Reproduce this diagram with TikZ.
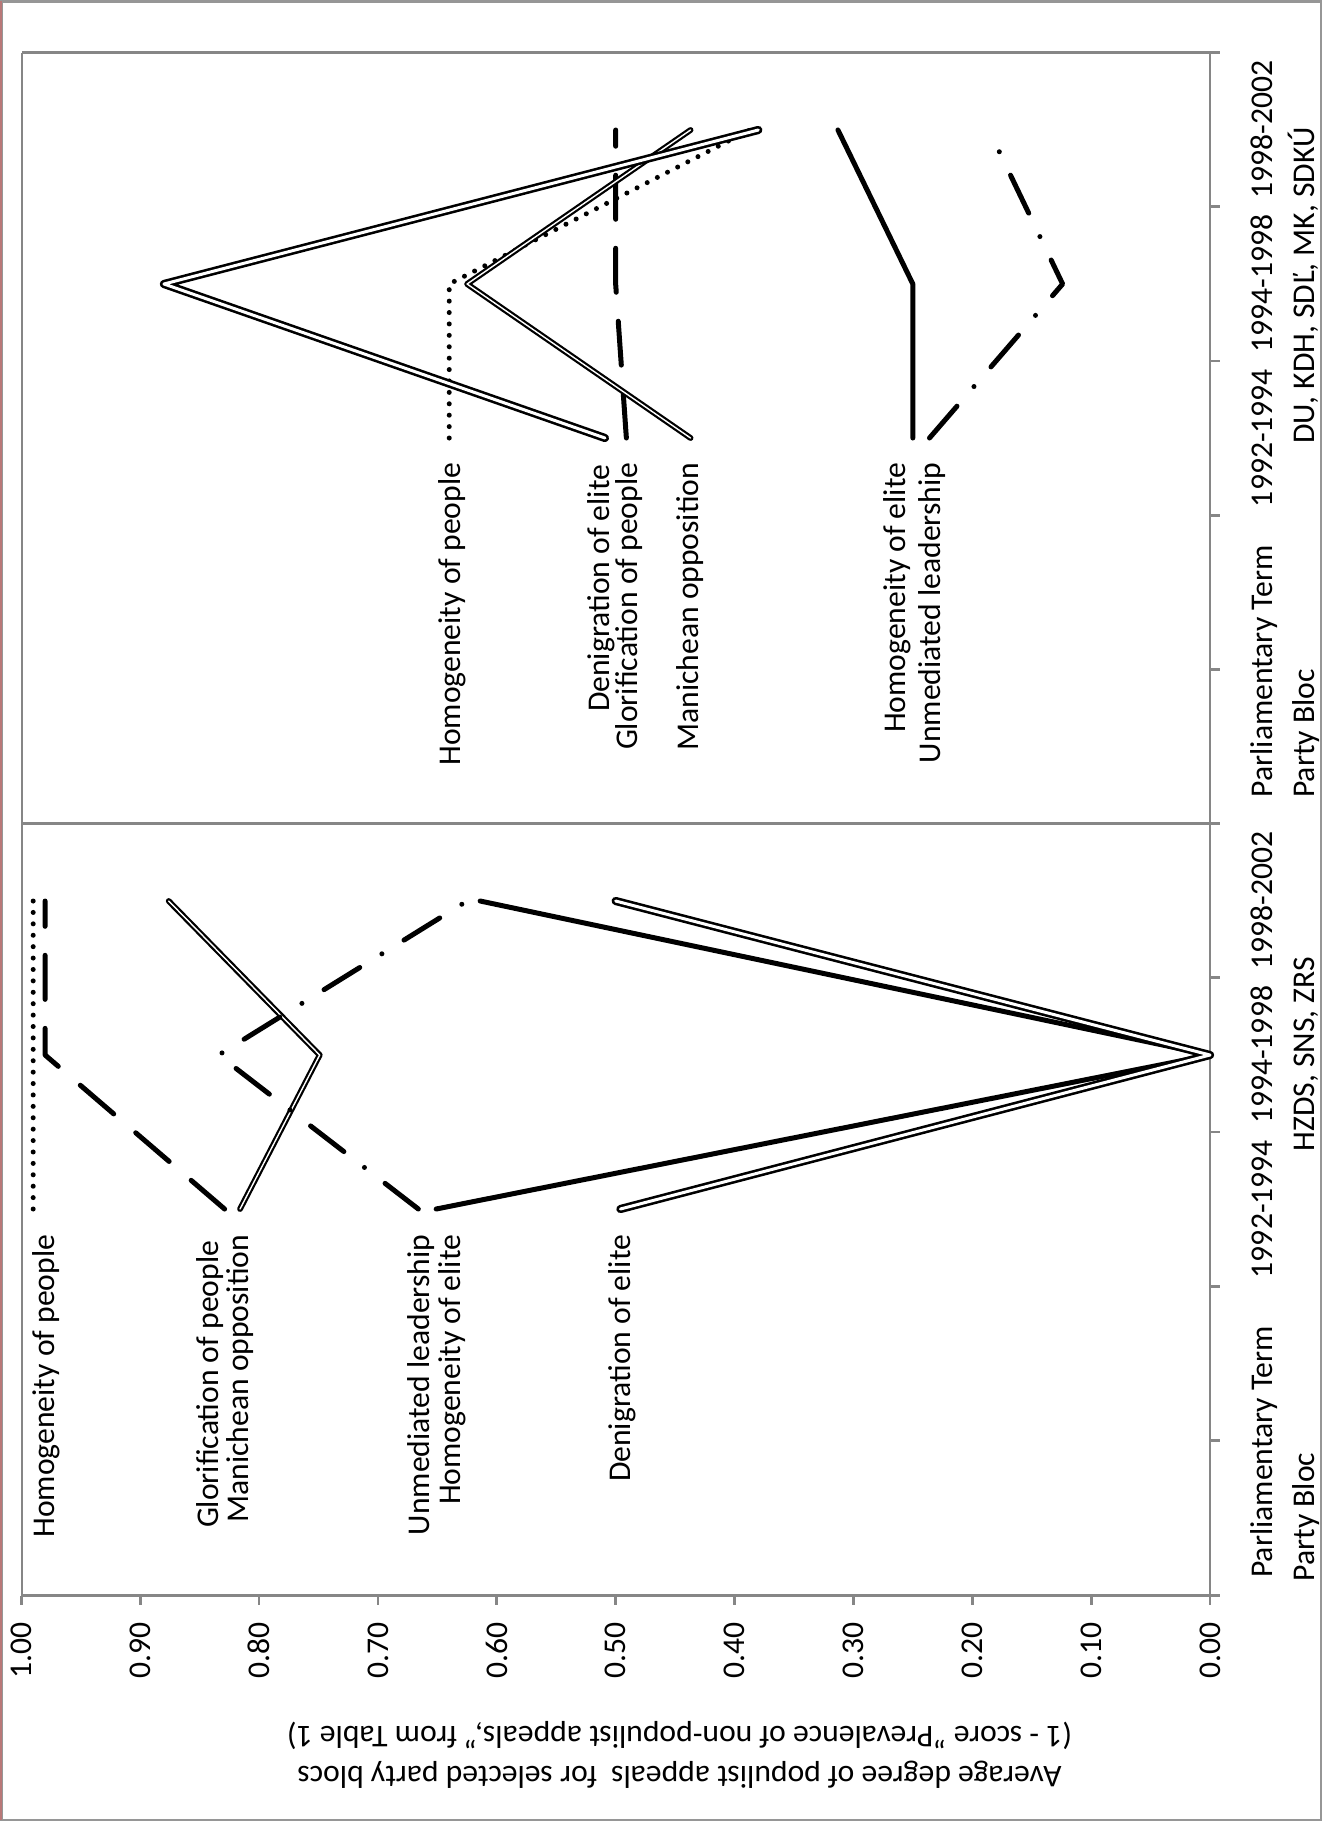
\documentclass[tikz,border=0pt]{standalone}
\usepackage{fontspec}
\setmainfont{Carlito}

\definecolor{axisgray}{RGB}{134,134,134}
\definecolor{framegray}{RGB}{150,150,150}
\definecolor{framered}{RGB}{185,120,120}

\tikzset{
  chartline/.style={line cap=round, line join=round},
  homPeople/.style={chartline, line width=0.05cm, dash pattern=on 0cm off 0.114cm},
  glorPeople/.style={chartline, line width=0.05cm, dash pattern=on 0.44cm off 0.29cm},
  maniOpp/.style={chartline, double=white, line width=0.022cm, double distance=0.014cm},
  unmedLead/.style={chartline, line width=0.05cm, dash pattern=on 0.42cm off 0.26cm on 0cm off 0.26cm},
  homElite/.style={chartline, line width=0.05cm},
  denElite/.style={chartline, double=white, line width=0.026cm, double distance=0.03cm},
  axisline/.style={draw=axisgray, line width=0.028cm},
  serieslabel/.style={rotate=90, anchor=east, inner sep=0pt},
  ticklabel/.style={rotate=90, anchor=east, inner sep=0pt},
  catlabel/.style={rotate=90, anchor=base, inner sep=0pt},
}

\begin{document}
\begin{tikzpicture}[x=0.01cm, y=-0.01cm, font=\fontsize{9}{11}\selectfont]
  \useasboundingbox (0,0) rectangle (1323,1827);
  % outer frame
  \draw[framegray, line width=0.02cm] (1.5,1.5) rectangle (1321,1819.5);
  \draw[framered, line width=0.02cm] (1,1.5) -- (1,1819.5);

  % plot area
  \draw[axisline] (22,52.5) -- (1210,52.5);
  \draw[axisline] (22,52.5) -- (22,1595.5);
  \draw[axisline] (22,823.5) -- (1210,823.5);
  \draw[axisline] (1210,52.5) -- (1210,1595.5);
  \draw[axisline] (22,1595.5) -- (1210,1595.5);
  % category ticks
  \draw[axisline] (1210,52.5) -- (1220,52.5) (1210,206.7) -- (1220,206.7)
    (1210,360.9) -- (1220,360.9) (1210,515.1) -- (1220,515.1)
    (1210,669.3) -- (1220,669.3) (1210,823.5) -- (1220,823.5)
    (1210,977.7) -- (1220,977.7) (1210,1131.9) -- (1220,1131.9)
    (1210,1286.1) -- (1220,1286.1) (1210,1440.3) -- (1220,1440.3)
    (1210,1595.5) -- (1220,1595.5);

  % category labels
  \node[catlabel] (top9802) at (1272,129.6) {1998-2002};
  \node[catlabel] (top9498) at (1272,283.8) {1994-1998};
  \node[catlabel] (top9294) at (1272,438) {1992-1994};
  \node[catlabel] (topterm) at (1272,671.5) {Parliamentary Term};
  \node[catlabel] (topbloc) at (1314,285.6) {DU, KDH, SDĽ, MK, SDKÚ};
  \node[catlabel] (topparty) at (1314,733.5) {Party Bloc};
  \node[catlabel] (bot9802) at (1272,900.7) {1998-2002};
  \node[catlabel] (bot9498) at (1272,1054.9) {1994-1998};
  \node[catlabel] (bot9294) at (1272,1209.1) {1992-1994};
  \node[catlabel] (botterm) at (1272,1452) {Parliamentary Term};
  \node[catlabel] (botbloc) at (1314,1054) {HZDS, SNS, ZRS};
  \node[catlabel] (botparty) at (1314,1517) {Party Bloc};

  % value axis title
  \node[rotate=180, align=center, inner sep=0pt, font=\fontsize{9}{11.4}\selectfont] (vtitle) at (679.5,1755)
    {Average degree of populist appeals\ \ for selected party blocs\\(1 - score "Prevalence of non-populist appeals," from Table 1)};

  \begin{scope}[shift={(1210,0)}, x=-11.88cm]
    % value ticks
    \draw[axisline] (0,1595.5) -- (0,1605) (0.1,1595.5) -- (0.1,1605)
      (0.2,1595.5) -- (0.2,1605) (0.3,1595.5) -- (0.3,1605)
      (0.4,1595.5) -- (0.4,1605) (0.5,1595.5) -- (0.5,1605)
      (0.6,1595.5) -- (0.6,1605) (0.7,1595.5) -- (0.7,1605)
      (0.8,1595.5) -- (0.8,1605) (0.9,1595.5) -- (0.9,1605)
      (1,1595.5) -- (1,1605);
    \node[ticklabel] (t100) at (1.0,1622) {1.00};
    \node[ticklabel] (t090) at (0.9,1622) {0.90};
    \node[ticklabel] (t080) at (0.8,1622) {0.80};
    \node[ticklabel] (t070) at (0.7,1622) {0.70};
    \node[ticklabel] (t060) at (0.6,1622) {0.60};
    \node[ticklabel] (t050) at (0.5,1622) {0.50};
    \node[ticklabel] (t040) at (0.4,1622) {0.40};
    \node[ticklabel] (t030) at (0.3,1622) {0.30};
    \node[ticklabel] (t020) at (0.2,1622) {0.20};
    \node[ticklabel] (t010) at (0.1,1622) {0.10};
    \node[ticklabel] (t000) at (0.0,1622) {0.00};

    % DU, KDH, SDL, MK, SDKU
    \draw[homPeople] (0.640,438) -- (0.640,284) -- (0.387,130);
    \draw[glorPeople] (0.491,438) -- (0.500,284) -- (0.500,130);
    \draw[maniOpp] (0.437,438) -- (0.625,284) -- (0.437,130);
    \draw[unmedLead] (0.236,438) -- (0.124,284) -- (0.186,130);
    \draw[homElite] (0.250,438) -- (0.250,284) -- (0.313,130);
    \draw[denElite] (0.509,438) -- (0.880,284) -- (0.380,130);

    % HZDS, SNS, ZRS
    \draw[homPeople] (0.990,1209) -- (0.990,1055) -- (0.990,901);
    \draw[glorPeople] (0.829,1209) -- (0.980,1055) -- (0.980,901);
    \draw[maniOpp] (0.816,1209) -- (0.749,1055) -- (0.876,901);
    \draw[unmedLead] (0.666,1209) -- (0.834,1055) -- (0.625,901);
    \draw[homElite] (0.651,1209) -- (0.000,1055) -- (0.614,901);
    \draw[denElite] (0.496,1209) -- (0.000,1055) -- (0.500,901);
  \end{scope}

  % series labels
  \node[serieslabel] (tHP) at (452.4,462) {Homogeneity of people};
  \node[serieslabel] (tDE) at (601,464) {Denigration of elite};
  \node[serieslabel] (tGP) at (629,462) {Glorification of people};
  \node[serieslabel] (tMO) at (690,462) {Manichean opposition};
  \node[serieslabel] (tHE) at (897.4,462) {Homogeneity of elite};
  \node[serieslabel] (tUL) at (932,462) {Unmediated leadership};
  \node[serieslabel] (bHP) at (46.3,1234) {Homogeneity of people};
  \node[serieslabel] (bGP) at (210.4,1240) {Glorification of people};
  \node[serieslabel] (bMO) at (240,1234) {Manichean opposition};
  \node[serieslabel] (bUL) at (421,1234) {Unmediated leadership};
  \node[serieslabel] (bHE) at (452.4,1234) {Homogeneity of elite};
  \node[serieslabel] (bDE) at (622,1234) {Denigration of elite};
\end{tikzpicture}
\end{document}
